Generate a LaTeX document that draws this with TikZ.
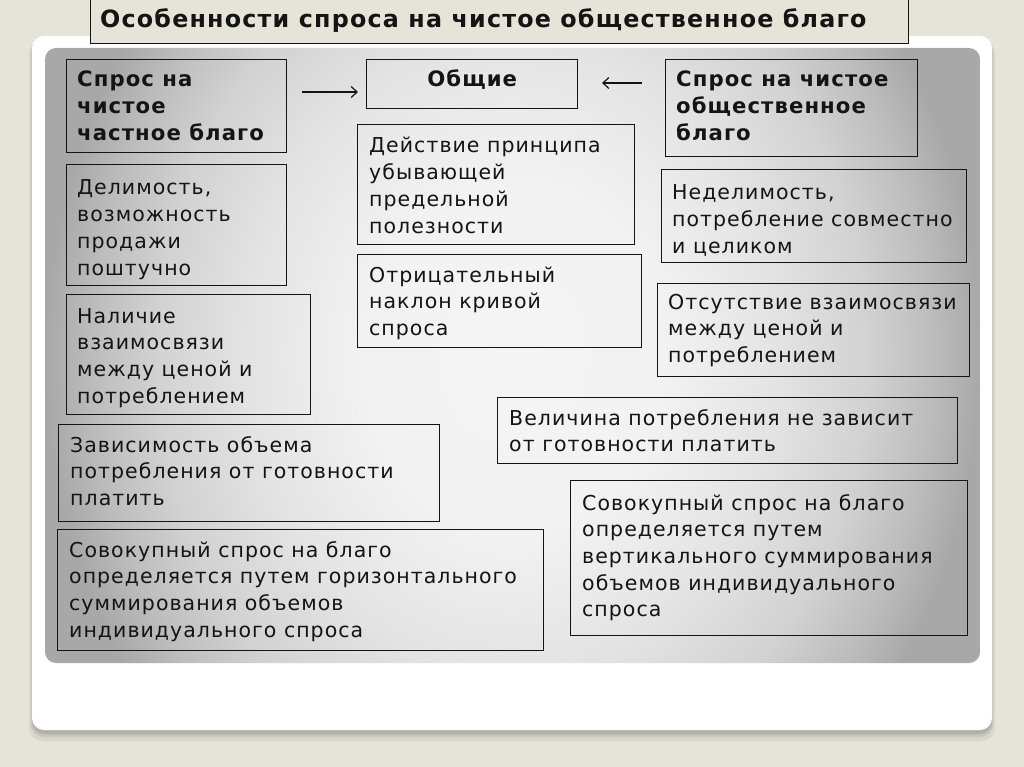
\documentclass[tikz,border=0pt]{standalone}
\usepackage{fontspec}
\setmainfont{DejaVu Sans}[LetterSpace=5]
\usetikzlibrary{arrows.meta}
\definecolor{pagebg}{RGB}{230,227,216}
\definecolor{pc0}{RGB}{245,245,245}
\definecolor{pc1}{RGB}{242,242,242}
\definecolor{pc2}{RGB}{228,228,228}
\definecolor{pc3}{RGB}{210,210,210}
\definecolor{pc4}{RGB}{188,188,188}
\definecolor{pc5}{RGB}{168,168,168}
\definecolor{ink}{RGB}{20,20,20}
\pgfdeclareradialshading{panelshade}{\pgfpoint{0bp}{0bp}}{color(0bp)=(pc0); color(8bp)=(pc1); color(14bp)=(pc2); color(19bp)=(pc3); color(22.5bp)=(pc4); color(25bp)=(pc5); color(50bp)=(pc5)}
\tikzset{
  frame/.style={draw=ink, line width=1.4pt, rectangle, inner sep=0pt, anchor=north west},
  txt/.style={inner sep=0pt, text=ink, font=\fontsize{20.5}{26.7}\selectfont},
  hdr/.style={txt, font=\fontsize{21.2}{26.7}\selectfont\bfseries},
  arr/.style={draw=ink, line width=1.2pt, -{Straight Barb[length=6pt,width=11pt]}}
}
\begin{document}
\begin{tikzpicture}[x=1pt,y=-1pt]
\useasboundingbox (0,0) rectangle (1024,767);
\fill[pagebg] (0,0) rectangle (1024,767);
% slide shadow and slide
\fill[black, opacity=0.06, rounded corners=14pt] (29,40) rectangle (995,741);
\fill[black, opacity=0.08, rounded corners=13pt] (31,39) rectangle (993,737);
\fill[black, opacity=0.10, rounded corners=12pt] (32,38) rectangle (992,734);
\fill[white, rounded corners=12pt] (32,36) rectangle (992,730);
% gradient panel
\begin{scope}
  \clip[rounded corners=11pt] (45,48) rectangle (980,663);
  \shade[shading=panelshade] (45,-200) rectangle (980,911);
\end{scope}
% title
\node[frame, fill=pagebg, minimum width=818pt, minimum height=47pt] (titlebox) at (90,-4) {};
\node[txt, anchor=base west, font=\fontsize{23.8}{26}\selectfont\bfseries] (title) at (100,28) {Особенности спроса на чистое общественное благо};
% header row
\node[frame, minimum width=220pt, minimum height=93pt] (hl) at (66,59) {};
\node[hdr, anchor=base west] (hlt) at ([xshift=11pt,yshift=-28pt]hl.north west) {\parbox[t]{210pt}{\raggedright Спрос на\\чистое\\частное благо}};
\node[frame, minimum width=211pt, minimum height=49pt] (ob) at (366,59) {};
\node[hdr, anchor=base] (obt) at ([yshift=-28pt]ob.north) {Общие};
\node[frame, minimum width=252pt, minimum height=97pt] (hr) at (665,59) {};
\node[hdr, anchor=base west] (hrt) at ([xshift=11pt,yshift=-28pt]hr.north west) {\parbox[t]{240pt}{\raggedright Спрос на чистое\\общественное\\благо}};
\coordinate (a1s) at (302,92);
\coordinate (a1e) at (358,92);
\coordinate (a2s) at (642,83);
\coordinate (a2e) at (602,83);
\draw[arr] (a1s) -- (a1e);
\draw[arr] (a2s) -- (a2e);
% middle column
\node[frame, minimum width=277pt, minimum height=120pt] (b5) at (357,124) {};
\node[txt, anchor=base west] (b5t) at ([xshift=12pt,yshift=-29pt]b5.north west) {\parbox[t]{270pt}{\raggedright Действие принципа\\убывающей\\предельной\\полезности}};
\node[frame, minimum width=284pt, minimum height=93pt] (b6) at (357,254) {};
\node[txt, anchor=base west] (b6t) at ([xshift=12pt,yshift=-28pt]b6.north west) {\parbox[t]{270pt}{\raggedright Отрицательный\\наклон кривой\\спроса}};
% left column
\node[frame, minimum width=220pt, minimum height=121pt] (b7) at (66,164) {};
\node[txt, anchor=base west] (b7t) at ([xshift=11pt,yshift=-31pt]b7.north west) {\parbox[t]{210pt}{\raggedright Делимость,\\возможность\\продажи\\поштучно}};
\node[frame, minimum width=244pt, minimum height=120pt] (b8) at (66,294) {};
\node[txt, anchor=base west] (b8t) at ([xshift=11pt,yshift=-29pt]b8.north west) {\parbox[t]{230pt}{\raggedright Наличие\\взаимосвязи\\между ценой и\\потреблением}};
\node[frame, minimum width=381pt, minimum height=97pt] (b9) at (58,424) {};
\node[txt, anchor=base west] (b9t) at ([xshift=12pt,yshift=-28pt]b9.north west) {\parbox[t]{370pt}{\raggedright Зависимость объема\\потребления от готовности\\платить}};
\node[frame, minimum width=486pt, minimum height=121pt] (b10) at (57,529) {};
\node[txt, anchor=base west] (b10t) at ([xshift=12pt,yshift=-28pt]b10.north west) {\parbox[t]{480pt}{\raggedright Совокупный спрос на благо\\определяется путем горизонтального\\суммирования объемов\\индивидуального спроса}};
% right column
\node[frame, minimum width=305pt, minimum height=93pt] (b11) at (661,169) {};
\node[txt, anchor=base west] (b11t) at ([xshift=11pt,yshift=-31pt]b11.north west) {\parbox[t]{300pt}{\raggedright Неделимость,\\потребление совместно\\и целиком}};
\node[frame, minimum width=312pt, minimum height=93pt] (b12) at (657,283) {};
\node[txt, anchor=base west] (b12t) at ([xshift=11pt,yshift=-26pt]b12.north west) {\parbox[t]{305pt}{\raggedright Отсутствие взаимосвязи\\между ценой и\\потреблением}};
\node[frame, minimum width=460pt, minimum height=66pt] (b13) at (497,397) {};
\node[txt, anchor=base west] (b13t) at ([xshift=12pt,yshift=-28pt]b13.north west) {\parbox[t]{450pt}{\raggedright Величина потребления не зависит\\от готовности платить}};
\node[frame, minimum width=397pt, minimum height=155pt] (b14) at (570,480) {};
\node[txt, anchor=base west] (b14t) at ([xshift=12pt,yshift=-30pt]b14.north west) {\parbox[t]{390pt}{\raggedright Совокупный спрос на благо\\определяется путем\\вертикального суммирования\\объемов индивидуального\\спроса}};
\end{tikzpicture}
\end{document}
